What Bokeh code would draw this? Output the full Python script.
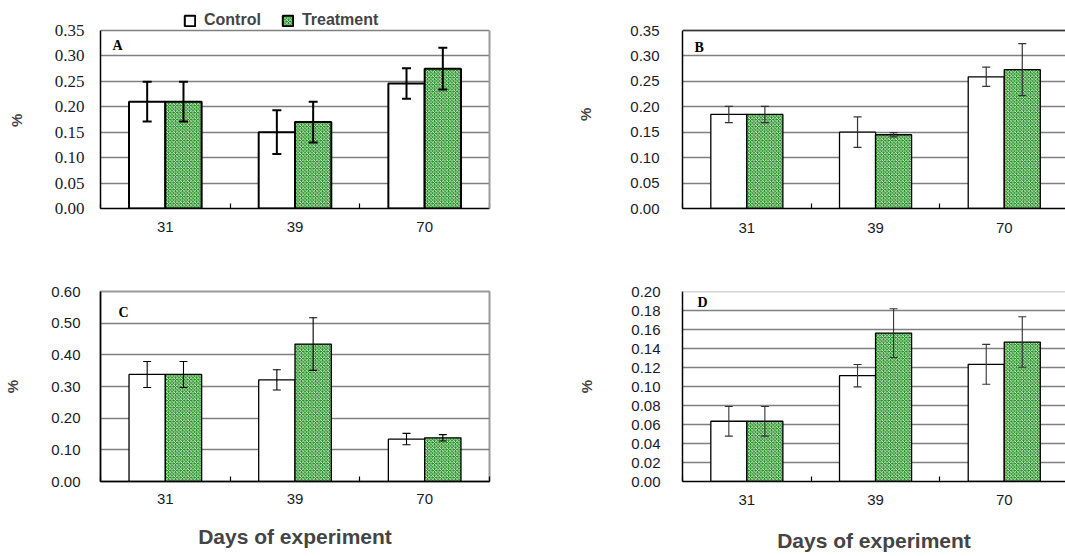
from bokeh.plotting import figure
from bokeh.models import (ColumnDataSource, Whisker, TeeHead, FixedTicker, NumeralTickFormatter,
                          Legend, LegendItem, Label, Span, Range1d, LinearAxis)
from bokeh.layouts import column, row
from bokeh.embed import file_html
from bokeh.resources import INLINE

days = ["31", "39", "70"]
series_names = ["Control", "Treatment"]

a_control = [0.210, 0.150, 0.246]
a_control_err = [0.039, 0.043, 0.030]
a_treat = [0.210, 0.170, 0.275]
a_treat_err = [0.039, 0.040, 0.041]

b_control = [0.185, 0.150, 0.259]
b_control_err = [0.016, 0.030, 0.019]
b_treat = [0.185, 0.145, 0.273]
b_treat_err = [0.016, 0.004, 0.051]

c_control = [0.338, 0.321, 0.134]
c_control_err = [0.041, 0.032, 0.018]
c_treat = [0.338, 0.434, 0.138]
c_treat_err = [0.041, 0.083, 0.010]

d_control = [0.0634, 0.1114, 0.1233]
d_control_err = [0.0156, 0.0118, 0.0210]
d_treat = [0.0634, 0.1562, 0.1468]
d_treat_err = [0.0156, 0.0257, 0.0266]

yticks_a = [0.00, 0.05, 0.10, 0.15, 0.20, 0.25, 0.30, 0.35]
yticks_b = [0.00, 0.05, 0.10, 0.15, 0.20, 0.25, 0.30, 0.35]
yticks_c = [0.00, 0.10, 0.20, 0.30, 0.40, 0.50, 0.60]
yticks_d = [0.00, 0.02, 0.04, 0.06, 0.08, 0.10, 0.12, 0.14, 0.16, 0.18, 0.20]

BAR_W = 0.28
GREEN = "#1f8f1f"


def make_panel(letter, ctrl, cerr, trt, terr, yticks, w, h, mb, x_end, st, extra_top=0):
    centers = [i + 0.5 for i in range(len(days))]
    frame_w = w - mb[0] - mb[1]
    frame_h = h - mb[2] - mb[3]
    plot_h = frame_h - extra_top           # pixel height of the 0..top value region
    y0, y1 = yticks[0], yticks[-1]
    y_end = y1 + extra_top * (y1 - y0) / plot_h
    p = figure(width=w, height=h, x_range=Range1d(0, x_end),
               y_range=Range1d(y0, y_end),
               output_backend="svg", toolbar_location=None,
               min_border_left=mb[0], min_border_right=mb[1],
               min_border_top=mb[2], min_border_bottom=mb[3])
    p.background_fill_color = "white"
    p.border_fill_color = "white"
    if st["outline"] and extra_top == 0:
        p.outline_line_color = "#9a9a9a"
        p.outline_line_width = 2
    else:
        p.outline_line_color = None
        if st["outline"]:
            ra = LinearAxis(bounds=(y0, y1), ticker=FixedTicker(ticks=[]),
                            axis_line_color="#9a9a9a", axis_line_width=2,
                            major_tick_out=0, major_tick_in=0, minor_tick_out=0,
                            minor_tick_in=0, major_label_text_font_size="0px")
            p.add_layout(ra, "right")
        else:
            p.add_layout(Span(location=y1, dimension="width",
                              line_color=st["top_color"], line_width=1.6))

    src_c = ColumnDataSource(dict(x=[c - BAR_W / 2 for c in centers], top=ctrl,
                                  upper=[v + e for v, e in zip(ctrl, cerr)],
                                  lower=[v - e for v, e in zip(ctrl, cerr)]))
    src_t = ColumnDataSource(dict(x=[c + BAR_W / 2 for c in centers], top=trt,
                                  upper=[v + e for v, e in zip(trt, terr)],
                                  lower=[v - e for v, e in zip(trt, terr)]))
    rc = p.vbar(x="x", top="top", bottom=0, width=BAR_W, source=src_c,
                fill_color="white", line_color="black", line_width=st["bar_lw"])
    rt = p.vbar(x="x", top="top", bottom=0, width=BAR_W, source=src_t,
                fill_color=GREEN, line_color="black", line_width=st["bar_lw"],
                hatch_pattern="diagonal_cross", hatch_color="white",
                hatch_scale=3.5, hatch_weight=0.8)
    for src in (src_c, src_t):
        wk = Whisker(source=src, base="x", upper="upper", lower="lower",
                     line_color=st["err_color"], line_width=st["err_lw"],
                     upper_head=TeeHead(size=st["cap"], line_color=st["err_color"], line_width=st["err_lw"]),
                     lower_head=TeeHead(size=st["cap"], line_color=st["err_color"], line_width=st["err_lw"]))
        wk.level = "overlay"
        p.add_layout(wk)

    p.xgrid.visible = False
    p.ygrid.ticker = FixedTicker(ticks=yticks)
    p.ygrid.grid_line_color = "#7f7f7f"
    p.ygrid.grid_line_width = 1.6

    ya = p.yaxis[0]
    ya.ticker = FixedTicker(ticks=yticks)
    ya.bounds = (y0, y1)
    ya.formatter = NumeralTickFormatter(format="0.00")
    ya.major_tick_out = 0
    ya.major_tick_in = 0
    ya.minor_tick_out = 0
    ya.minor_tick_in = 0
    ya.axis_line_color = "black"
    ya.axis_line_width = 1.5
    ya.major_label_text_font = st["yfont"]
    ya.major_label_text_font_size = st["yfont_size"]
    ya.major_label_text_color = "#1a1a2a"
    ya.major_label_standoff = st["ylab_standoff"]
    ya.axis_label = st.get("ylabel", "%")
    ya.axis_label_text_font = "Liberation Sans"
    ya.axis_label_text_font_style = "bold"
    ya.axis_label_text_font_size = "15px"
    ya.axis_label_standoff = st["yaxis_standoff"]

    xa = p.xaxis[0]
    xa.ticker = FixedTicker(ticks=centers, minor_ticks=list(range(len(days) + 1)))
    xa.major_label_overrides = {c: d for c, d in zip(centers, days)}
    xa.major_tick_in = 0
    xa.major_tick_out = 0
    xa.minor_tick_in = 5
    xa.minor_tick_out = 0
    xa.minor_tick_line_color = "black"
    xa.minor_tick_line_width = 1.2
    xa.axis_line_color = "black"
    xa.axis_line_width = 1.5
    xa.major_label_text_font = "Liberation Sans"
    xa.major_label_text_font_size = "15px"
    xa.major_label_text_color = "#1a1a2a"
    xa.major_label_standoff = st["xlab_standoff"]
    if st.get("xtitle"):
        xa.axis_label = "Days of experiment"
        xa.axis_label_text_font = "Liberation Sans"
        xa.axis_label_text_font_style = "bold"
        xa.axis_label_text_font_size = "21px"
        xa.axis_label_standoff = st["xaxis_standoff"]

    cat_px = frame_w / x_end
    p.add_layout(Label(x=st["lx"] / cat_px, y=y1 - st["ly"] / plot_h * (y1 - y0),
                       text=letter, text_font="Liberation Serif", text_font_style="bold",
                       text_font_size="14px", text_baseline="middle", text_align="left",
                       text_color="black"))
    return p, rc, rt, frame_h


# Top row: frames extended upward so that the legend sits inside panel A's frame
TOP_EXTRA = 21
pa, rca, rta, fh_a = make_panel("A", a_control, a_control_err, a_treat, a_treat_err, yticks_a,
                                540, 260, (100, 51, 30 - TOP_EXTRA, 52), 3.0,
                                dict(outline=True, bar_lw=2, err_color="black", err_lw=2, cap=9,
                                     yfont="Liberation Serif", yfont_size="17px",
                                     ylab_standoff=16, yaxis_standoff=27, xlab_standoff=13,
                                     lx=12, ly=15, ylabel="%\u2002\u2002\u2002"),
                                extra_top=TOP_EXTRA)
legend = Legend(items=[LegendItem(label=series_names[0], renderers=[rca]),
                       LegendItem(label=series_names[1], renderers=[rta])],
                orientation="horizontal", location=(83, fh_a - TOP_EXTRA + 1))
legend.label_text_font = "Liberation Sans"
legend.label_text_font_style = "bold"
legend.label_text_font_size = "16px"
legend.glyph_width = 13
legend.glyph_height = 13
legend.label_height = 14
legend.label_standoff = 8
legend.spacing = 20
legend.padding = 3
legend.margin = 0
legend.border_line_color = None
legend.background_fill_alpha = 0
pa.add_layout(legend, "center")

x_end_b = 383 / 128.7
pb, _, _, _ = make_panel("B", b_control, b_control_err, b_treat, b_treat_err, yticks_b,
                         525, 260, (142, 0, 30 - TOP_EXTRA, 52), x_end_b,
                         dict(outline=False, top_color="#333333", bar_lw=1.3, err_color="#333333",
                              err_lw=1.2, cap=8, yfont="Liberation Sans", yfont_size="15px",
                              ylab_standoff=23, yaxis_standoff=33, xlab_standoff=14,
                              lx=12, ly=17, ylabel="%\u2002\u2009"),
                         extra_top=TOP_EXTRA)

pc, _, _, _ = make_panel("C", c_control, c_control_err, c_treat, c_treat_err, yticks_c,
                         540, 296, (100, 51, 31, 75), 3.0,
                         dict(outline=True, bar_lw=1.3, err_color="black", err_lw=1.1, cap=8,
                              yfont="Liberation Sans", yfont_size="15px",
                              ylab_standoff=20, yaxis_standoff=27, xlab_standoff=12,
                              xtitle=True, xaxis_standoff=18, lx=18, ly=21))

x_end_d = 383 / 128.7
pd, _, _, _ = make_panel("D", d_control, d_control_err, d_treat, d_treat_err, yticks_d,
                         525, 296, (142, 0, 31, 75), x_end_d,
                         dict(outline=False, top_color="#aaaaaa", bar_lw=1.3, err_color="#333333",
                              err_lw=1.1, cap=8, yfont="Liberation Sans", yfont_size="15px",
                              ylab_standoff=22, yaxis_standoff=33, xlab_standoff=13,
                              xtitle=True, xaxis_standoff=21, lx=15, ly=11))

layout = column(row(pa, pb), row(pc, pd))
open("out.html", "w").write(file_html(layout, INLINE))
